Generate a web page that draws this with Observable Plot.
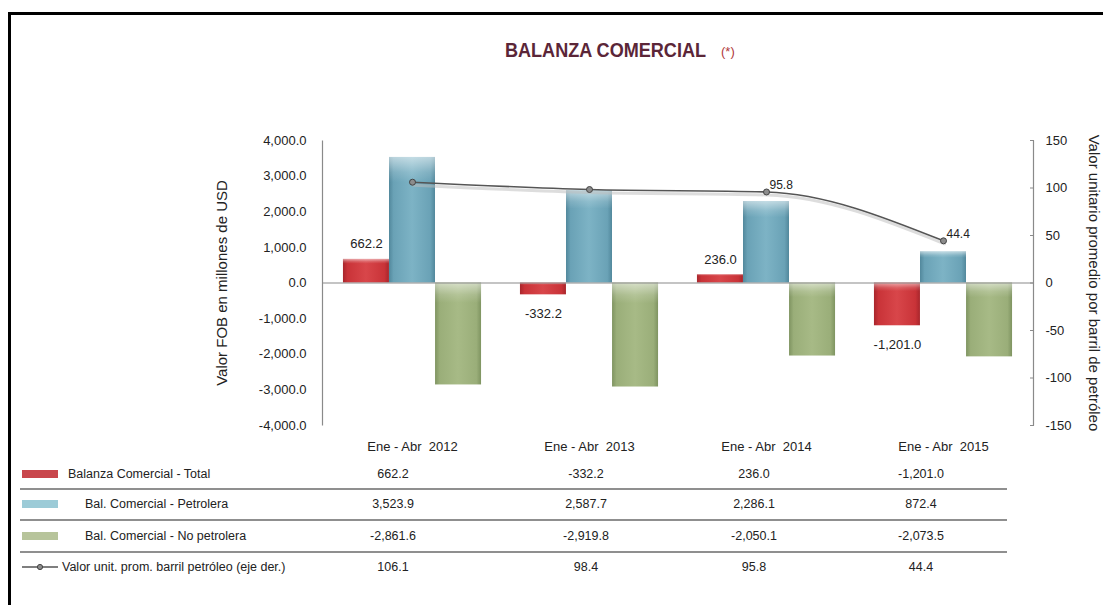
<!DOCTYPE html>
<html><head><meta charset="utf-8">
<script src="https://cdn.jsdelivr.net/npm/d3@7"></script>
<script src="https://cdn.jsdelivr.net/npm/@observablehq/plot@0.6"></script>
<style>
html,body{margin:0;padding:0;background:#fff;}
#wrap{position:relative;width:1103px;height:605px;overflow:hidden;font-family:"Liberation Sans",Arial,sans-serif;color:#222;}
#border{position:absolute;left:8px;top:12px;width:1100px;height:600px;border-left:3px solid #000;border-top:3px solid #000;box-sizing:border-box;}
#title{position:absolute;left:505px;top:38px;white-space:nowrap;}
#title .main{display:inline-block;transform:scaleX(0.86);transform-origin:left center;font-weight:bold;font-size:21px;color:#5b2638;}
#title .ast{position:absolute;left:216px;top:6px;font-size:13px;color:#b03a3a;}
#chart{position:absolute;left:0;top:0;}
.cell{position:absolute;font-size:12.5px;white-space:nowrap;transform:translate(-50%,-50%);}
.lab{position:absolute;font-size:12.5px;white-space:nowrap;transform:translateY(-50%);}
.sep{position:absolute;left:20px;width:987px;height:0;border-top:2px solid #8f8f8f;}
.sw{position:absolute;left:22px;width:36px;height:8px;}
</style></head>
<body>
<div id="wrap">
  <div id="border"></div>
  <div id="title"><span class="main">BALANZA COMERCIAL</span><span class="ast">(*)</span></div>
  <div id="chart"></div>
  <div id="table"></div>
</div>
<script>
// ---------- data ----------
const periods = ["Ene - Abr  2012", "Ene - Abr  2013", "Ene - Abr  2014", "Ene - Abr  2015"];
const balanzaTotal = [662.2, -332.2, 236.0, -1201.0];
const balPetrolera = [3523.9, 2587.7, 2286.1, 872.4];
const balNoPetrolera = [-2861.6, -2919.8, -2050.1, -2073.5];
const valorBarril = [106.1, 98.4, 95.8, 44.4];
const seriesNames = ["Balanza Comercial - Total", "Bal. Comercial - Petrolera", "Bal. Comercial - No petrolera", "Valor unit. prom. barril petróleo (eje der.)"];
const leftTicks = [-4000, -3000, -2000, -1000, 0, 1000, 2000, 3000, 4000];
const rightTicks = [-150, -100, -50, 0, 50, 100, 150];
const lineLabelPeriods = ["Ene - Abr  2014", "Ene - Abr  2015"];
const leftTitle = "Valor FOB en millones de USD";
const rightTitle = "Valor unitario promedio por barril de petróleo";

// ---------- helpers ----------
const loc = d3.formatLocale({decimal: ".", thousands: ",", grouping: [3], currency: ["", ""], minus: "-"});
const fmt1 = loc.format(",.1f");
const fmt0 = loc.format("d");
const K = 4000 / 150; // right axis -> left axis units

const data = periods.map((p, i) => ({
  period: p, total: balanzaTotal[i], petro: balPetrolera[i], noPetro: balNoPetrolera[i], barril: valorBarril[i]
}));

const W = 1103, H = 455, mL = 322, mR = 70, mT = 140, mB = 30;
const pw = W - mL - mR, ph = H - mT - mB;
const padInner = 0.741, padOuter = 0.37;
const step = pw / (periods.length - padInner + 2 * padOuter);
const bw = step * (1 - padInner);

function bars(key, grad, dx) {
  return [
    Plot.barY(data, {x: "period", y: key, fill: `url(#${grad})`, dx, ariaLabel: "shadowbar"}),
    Plot.barY(data, {x: "period", y: key, fill: "url(#hl)", dx, ariaLabel: "highlight"})
  ];
}

const chart = Plot.plot({
  width: W, height: H,
  marginLeft: mL, marginRight: mR, marginTop: mT, marginBottom: mB,
  style: {fontFamily: '"Liberation Sans", Arial, sans-serif', fontSize: "13px", color: "#222", background: "transparent", overflow: "visible"},
  x: {type: "band", domain: periods, paddingInner: padInner, paddingOuter: padOuter},
  y: {domain: [-4000, 4000]},
  marks: [
    Plot.frame({stroke: "#8a8a8a", strokeWidth: 1.2, strokeDasharray: `0 ${pw} ${ph} ${pw} ${ph}`}),
    ...bars("total", "gR", -bw),
    ...bars("petro", "gB", 0),
    ...bars("noPetro", "gG", bw),
    Plot.ruleY([0], {stroke: "#8a8a8a", strokeWidth: 1.2}),
    Plot.line(data, {x: "period", y: d => d.barril * K, curve: "monotone-x", stroke: "#bbb", strokeOpacity: 0.5, strokeWidth: 3, dx: 1, dy: 3}),
    Plot.line(data, {x: "period", y: d => d.barril * K, curve: "monotone-x", stroke: "#555", strokeWidth: 1.6}),
    Plot.dot(data, {x: "period", y: d => d.barril * K, r: 3, fill: "#8c8c8c", stroke: "#444", strokeWidth: 1}),
    Plot.text(data.filter(d => d.total >= 0), {x: "period", y: "total", text: d => fmt1(d.total), dx: -bw, dy: -11, lineAnchor: "bottom", fontSize: 13, fill: "#222"}),
    Plot.text(data.filter(d => d.total < 0), {x: "period", y: "total", text: d => fmt1(d.total), dx: -bw, dy: 14, lineAnchor: "top", fontSize: 13, fill: "#222"}),
    Plot.text(data.filter(d => lineLabelPeriods.includes(d.period)), {x: "period", y: d => d.barril * K, text: d => fmt1(d.barril), textAnchor: "start", dx: 3, dy: -7, fontSize: 12, fill: "#222"}),
    Plot.axisY(leftTicks, {anchor: "left", tickFormat: fmt1, tickSize: 0, tickPadding: 16, label: null, fontSize: 13}),
    Plot.axisY(rightTicks.map(v => v * K), {anchor: "right", tickFormat: v => fmt0(Math.round(v / K)), tickSize: -4, tickPadding: 16, label: null, fontSize: 13, stroke: "#8a8a8a"}),
    Plot.axisX({anchor: "bottom", tickSize: 0, tickPadding: 16, label: null, fontSize: 13, tickFormat: d => d.replace("  ", " \u00a0")}),
    Plot.text([leftTitle], {frameAnchor: "left", textAnchor: "middle", rotate: -90, dx: -100, fontSize: 15, fill: "#222"}),
    Plot.text([rightTitle], {frameAnchor: "right", textAnchor: "middle", rotate: 90, dx: 60, fontSize: 15, fill: "#222"})
  ]
});

// gradients and shadows
const svg = d3.select(chart);
const defs = svg.insert("defs", ":first-child");
function hGrad(id, edge, base, light) {
  const g = defs.append("linearGradient").attr("id", id).attr("x1", 0).attr("x2", 1).attr("y1", 0).attr("y2", 0);
  [[0, edge], [0.1, base], [0.5, light], [0.9, base], [1, edge]].forEach(([o, c]) => g.append("stop").attr("offset", o).attr("stop-color", c));
}
hGrad("gR", "#a8262c", "#c93338", "#d8464a");
hGrad("gB", "#52889c", "#6aa2b6", "#7db3c5");
hGrad("gG", "#7f9461", "#9aae79", "#a7ba86");
const hl = defs.append("linearGradient").attr("id", "hl").attr("x1", 0).attr("x2", 0).attr("y1", 0).attr("y2", 1);
[[0, "rgba(255,255,255,0.55)"], [0.12, "rgba(255,255,255,0.15)"], [0.2, "rgba(255,255,255,0)"], [1, "rgba(255,255,255,0)"]]
  .forEach(([o, c]) => hl.append("stop").attr("offset", o).attr("stop-color", c));
const f = defs.append("filter").attr("id", "shadow").attr("x", "-30%").attr("y", "-30%").attr("width", "160%").attr("height", "160%");
f.append("feDropShadow").attr("dx", 2).attr("dy", 5).attr("stdDeviation", 3).attr("flood-color", "#000").attr("flood-opacity", 0.3);
svg.selectAll('g[aria-label="shadowbar"] rect').attr("filter", "url(#shadow)");
document.getElementById("chart").appendChild(chart);

// ---------- data table / legend ----------
const table = document.getElementById("table");
const rowY = [474, 504, 536, 567];
const sepY = [489, 520, 552];
const colX = [393, 586, 754, 921];
const labelX = [68, 85, 85, 62];
const swatch = ["#c9464c", "#9ccbd7", "#b7c49b", null];
const rowValues = [balanzaTotal, balPetrolera, balNoPetrolera, valorBarril];
seriesNames.forEach((name, r) => {
  const lab = document.createElement("div");
  lab.className = "lab"; lab.textContent = name;
  lab.style.left = labelX[r] + "px"; lab.style.top = rowY[r] + "px";
  table.appendChild(lab);
  if (swatch[r]) {
    const s = document.createElement("div");
    s.className = "sw"; s.style.background = swatch[r]; s.style.top = (rowY[r] - 4) + "px";
    table.appendChild(s);
  } else {
    const s = document.createElementNS("http://www.w3.org/2000/svg", "svg");
    s.setAttribute("width", 40); s.setAttribute("height", 10);
    s.style.position = "absolute"; s.style.left = "20px"; s.style.top = (rowY[r] - 5) + "px";
    s.innerHTML = '<line x1="2" y1="5" x2="38" y2="5" stroke="#555" stroke-width="1.5"/><circle cx="20" cy="5" r="2.6" fill="#8c8c8c" stroke="#444"/>';
    table.appendChild(s);
  }
  rowValues[r].forEach((v, c) => {
    const cell = document.createElement("div");
    cell.className = "cell"; cell.textContent = fmt1(v);
    cell.style.left = colX[c] + "px"; cell.style.top = rowY[r] + "px";
    table.appendChild(cell);
  });
});
sepY.forEach(y => {
  const s = document.createElement("div");
  s.className = "sep"; s.style.top = (y - 1) + "px";
  table.appendChild(s);
});
</script>
</body></html>
